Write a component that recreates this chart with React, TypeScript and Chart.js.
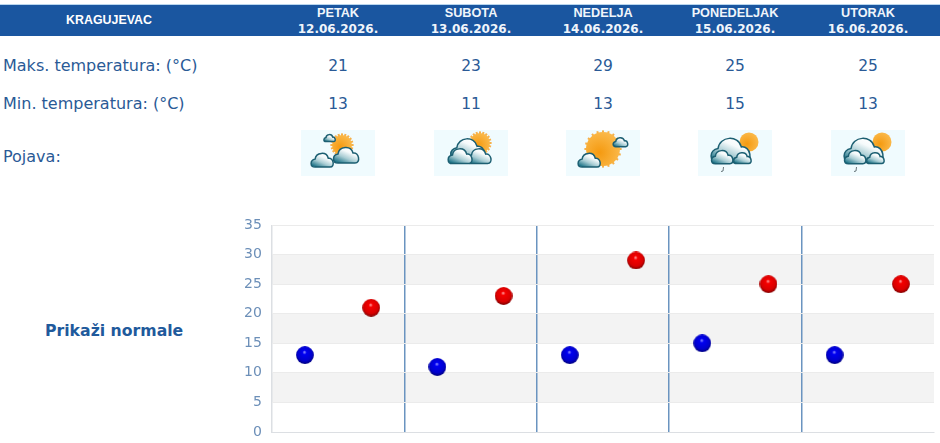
import React, { useEffect, useRef } from "react";
import { Chart, registerables } from "chart.js";

Chart.register(...registerables);

const station = "KRAGUJEVAC";
const dayNames = ["PETAK", "SUBOTA", "NEDELJA", "PONEDELJAK", "UTORAK"];
const dates = ["12.06.2026.", "13.06.2026.", "14.06.2026.", "15.06.2026.", "16.06.2026."];
const maxTemps = [21, 23, 29, 25, 25];
const minTemps = [13, 11, 13, 15, 13];
const iconKinds = ["partly", "cloudy", "sunny", "rain", "rain"];
const yTicks = [0, 5, 10, 15, 20, 25, 30, 35];
const columnCentres = [338, 471, 603, 735, 868];

const BLUE = "#2a5a96";
const categories: string[] = [];
const lowSeries: (number | null)[] = [];
const highSeries: (number | null)[] = [];
dayNames.forEach((d, i) => {
  categories.push(d + " min", d + " max");
  lowSeries.push(minTemps[i], null);
  highSeries.push(null, maxTemps[i]);
});

function makeBall(edge: string, dark: string, mid: string, light: string) {
  const size = 18;
  const c = document.createElement("canvas");
  c.width = size;
  c.height = size;
  const g = c.getContext("2d")!;
  const grad = g.createRadialGradient(8.5, 6, 0.2, 9, 8, 10);
  grad.addColorStop(0, light);
  grad.addColorStop(0.2, mid);
  grad.addColorStop(0.72, dark);
  grad.addColorStop(1, edge);
  g.fillStyle = grad;
  g.beginPath();
  g.arc(9, 9, 8.9, 0, Math.PI * 2);
  g.fill();
  return c;
}

const bandsPlugin = {
  id: "bands",
  beforeDraw(chart: any) {
    const { ctx, chartArea, scales } = chart;
    ctx.save();
    ctx.fillStyle = "#f3f3f3";
    [[5, 10], [15, 20], [25, 30]].forEach(([a, b]) => {
      const top = scales.y.getPixelForValue(b);
      const bottom = scales.y.getPixelForValue(a);
      ctx.fillRect(chartArea.left, top, chartArea.right - chartArea.left, bottom - top);
    });
    ctx.restore();
  },
};

function Cloud({ x, y, s, id }: { x: number; y: number; s: number; id: string }) {
  return (
    <path
      transform={`translate(${x} ${y}) scale(${s})`}
      d="M-9 8 C-15 8 -15 0 -9 -1 C-8 -9 4 -10 6 -2 C12 -3 14 8 8 8 Z"
      fill={`url(#${id})`}
      stroke="#1c5f72"
      strokeWidth={1.5 / s}
    />
  );
}

function Sun({ x, y, r, rays }: { x: number; y: number; r: number; rays?: boolean }) {
  const list = rays ? Array.from({ length: 20 }, (_, i) => (i * 360) / 20) : [];
  return (
    <g>
      {list.map((a) => (
        <rect key={a} x={x - 1} y={y - r - 1.6} width={2} height={3} fill="#f6b04a" transform={`rotate(${a} ${x} ${y})`} />
      ))}
      <circle cx={x} cy={y} r={r} fill="url(#sunGrad)" />
    </g>
  );
}

function Icon({ kind, cx }: { kind: string; cx: number }) {
  const id = "cg" + cx;
  return (
    <svg
      width={74}
      height={46}
      viewBox="0 0 74 46"
      style={{ position: "absolute", left: cx - 37, top: 130, background: "#f0fbfe" }}
    >
      <defs>
        <linearGradient id={id} x1="0.15" y1="0.95" x2="0.75" y2="0.1">
          <stop offset="0" stopColor="#1b7286" />
          <stop offset="0.4" stopColor="#a9cdd4" />
          <stop offset="0.75" stopColor="#f5fafb" />
          <stop offset="1" stopColor="#ffffff" />
        </linearGradient>
        <radialGradient id="sunGrad" cx="0.4" cy="0.6" r="0.7">
          <stop offset="0" stopColor="#f59a10" />
          <stop offset="1" stopColor="#fbbd52" />
        </radialGradient>
      </defs>
      {kind === "partly" && (
        <g>
          <Sun x={41} y={15} r={10} rays />
          <Cloud x={29} y={8} s={0.45} id={id} />
          <Cloud x={46} y={25} s={1} id={id} />
          <Cloud x={22} y={30} s={0.88} id={id} />
        </g>
      )}
      {kind === "cloudy" && (
        <g>
          <Sun x={46} y={13} r={10} rays />
          <Cloud x={35} y={19} s={1.35} id={id} />
          <Cloud x={46} y={26} s={0.95} id={id} />
          <Cloud x={27} y={26} s={0.95} id={id} />
        </g>
      )}
      {kind === "sunny" && (
        <g>
          <Sun x={37} y={19} r={17} rays />
          <Cloud x={55} y={12} s={0.58} id={id} />
          <Cloud x={24} y={30} s={0.88} id={id} />
        </g>
      )}
      {kind === "rain" && (
        <g>
          <Sun x={51} y={12} r={9.5} />
          <Cloud x={34} y={20} s={1.55} id={id} />
          <Cloud x={45} y={28} s={0.7} id={id} />
          <Cloud x={25} y={27} s={0.85} id={id} />
          <path d="M25.5 37 L25 41 L23 41.5" fill="none" stroke="#66757a" strokeWidth={1} />
        </g>
      )}
    </svg>
  );
}

const abs = (extra: React.CSSProperties): React.CSSProperties => ({
  position: "absolute",
  whiteSpace: "nowrap",
  fontFamily: "'DejaVu Sans', sans-serif",
  color: BLUE,
  ...extra,
});

export default function App() {
  const ref = useRef<HTMLCanvasElement>(null);
  useEffect(() => {
    const redBall = makeBall("#7a0000", "#d80000", "#f40000", "#ff9c9c");
    const blueBall = makeBall("#00007a", "#0000cc", "#0000f0", "#8c8cff");
    const chart = new Chart(ref.current!, {
      type: "line",
      data: {
        labels: categories,
        datasets: [
          { data: lowSeries, showLine: false, pointStyle: blueBall as any, pointRadius: 9, pointHoverRadius: 9 },
          { data: highSeries, showLine: false, pointStyle: redBall as any, pointRadius: 9, pointHoverRadius: 9 },
        ],
      },
      options: {
        animation: false,
        responsive: false,
        layout: { autoPadding: false, padding: { left: 244, top: 225, right: 6, bottom: 11 } },
        plugins: { legend: { display: false }, tooltip: { enabled: false } },
        scales: {
          x: {
            offset: true,
            ticks: { display: false },
            border: { display: true, color: "#dcdfe3" },
            grid: {
              offset: true,
              drawTicks: false,
              lineWidth: 1.5,
              color: (c: any) => {
                const i = c.index;
                if (i === 0 || i === 10) return "#dcdfe3";
                return i % 2 === 0 ? "#6a94c0" : "rgba(0,0,0,0)";
              },
            },
          },
          y: {
            min: 0,
            max: 35,
            afterBuildTicks: (axis: any) => {
              axis.ticks = yTicks.map((value) => ({ value }));
            },
            ticks: { color: "#6c8fb8", font: { family: "'DejaVu Sans'", size: 14 }, padding: 0 },
            border: { display: true, color: "#dcdfe3" },
            grid: { color: "#ebebeb", drawTicks: true, tickLength: 10, tickColor: "rgba(0,0,0,0)" },
          },
        },
      },
      plugins: [bandsPlugin],
    } as any);
    return () => chart.destroy();
  }, []);

  return (
    <div style={{ position: "absolute", left: 0, top: 0, width: 940, height: 443, overflow: "hidden", background: "#fff", filter: "blur(0.4px)" }}>
      <div style={{ position: "absolute", left: 0, top: 4, width: 940, height: 1, background: "#b9d6ee" }} />
      <div style={{ position: "absolute", left: 0, top: 5, width: 940, height: 31, background: "#1a56a0" }} />
      <div
        style={abs({
          left: 9,
          width: 200,
          top: 13,
          textAlign: "center",
          color: "#fff",
          fontFamily: "'Liberation Sans'",
          fontWeight: 700,
          fontSize: 12.4,
          lineHeight: "14px",
        })}
      >
        {station}
      </div>
      {dayNames.map((d, i) => (
        <div
          key={d}
          style={abs({
            left: columnCentres[i] - 65,
            width: 130,
            top: 5,
            textAlign: "center",
            color: "#f0f5fb",
            fontWeight: 700,
            fontSize: 12,
            lineHeight: "16px",
          })}
        >
          <div style={{ fontFamily: "'Liberation Sans'", fontSize: 12.7 }}>{d}</div>
          <div>{dates[i]}</div>
        </div>
      ))}
      <div style={abs({ left: 3, top: 57, fontSize: 16, lineHeight: "18px" })}>Maks. temperatura: (°C)</div>
      <div style={abs({ left: 3, top: 95, fontSize: 16, lineHeight: "18px" })}>Min. temperatura: (°C)</div>
      <div style={abs({ left: 3, top: 148, fontSize: 16, lineHeight: "18px" })}>Pojava:</div>
      {columnCentres.map((cx, i) => (
        <React.Fragment key={cx}>
          <div style={abs({ left: cx - 30, width: 60, top: 57, textAlign: "center", fontSize: 15.5, lineHeight: "18px" })}>
            {maxTemps[i]}
          </div>
          <div style={abs({ left: cx - 30, width: 60, top: 95, textAlign: "center", fontSize: 15.5, lineHeight: "18px" })}>
            {minTemps[i]}
          </div>
          <Icon kind={iconKinds[i]} cx={cx} />
        </React.Fragment>
      ))}
      <div style={abs({ left: 45, top: 322, fontSize: 15.7, lineHeight: "18px", fontWeight: 700, color: "#1f5a9c" })}>Prikaži normale</div>
      <canvas ref={ref} width={940} height={443} style={{ position: "absolute", left: 0, top: 0 }} />
    </div>
  );
}
